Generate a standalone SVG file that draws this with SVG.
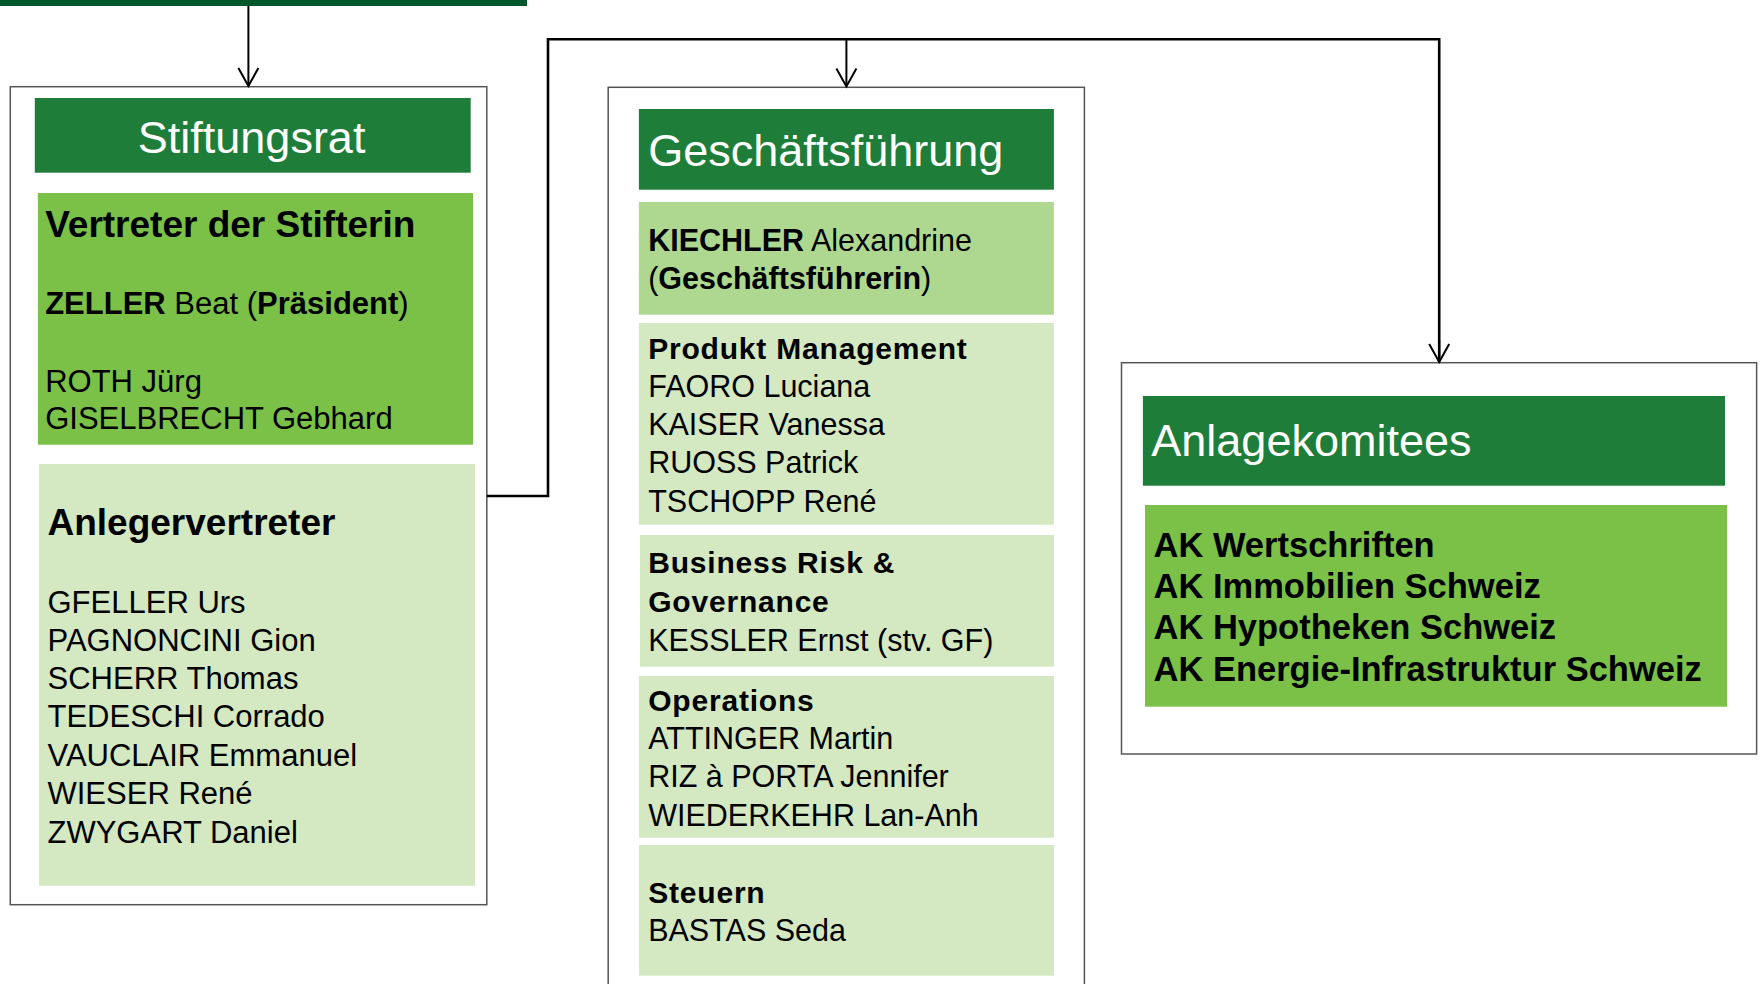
<svg xmlns="http://www.w3.org/2000/svg" width="1760" height="984" viewBox="0 0 1760 984">
<defs>
<style>
text{font-family:"Liberation Sans",Arial,sans-serif;fill:#000}
.hdr{fill:#1f7d3a}
.hdrt{fill:#fff;font-size:45px}
.mid{fill:#7bc147}
.lite{fill:#aed88f}
.pale{fill:#d4e8c1}
.outer{fill:#fff;stroke:#555;stroke-width:1.5}
.b{font-weight:bold}
.n31{font-size:31px}
.n30{font-size:30.5px}
.sub{font-size:30px;font-weight:bold;letter-spacing:0.8px}
.big{font-size:37px;font-weight:bold}
.ak{font-size:34.5px;font-weight:bold}
.conn{fill:none;stroke:#000;stroke-width:2.6}
.stem{fill:none;stroke:#000;stroke-width:2}
</style>
<marker id="arr" viewBox="0 0 24 24" refX="22" refY="12" markerWidth="24" markerHeight="24" markerUnits="userSpaceOnUse" orient="auto">
<path d="M4,2 L22,12 L4,22" fill="none" stroke="#000" stroke-width="2"/>
</marker>
</defs>
<rect x="0" y="0" width="1760" height="984" fill="#fff"/>
<rect id="topbar" x="0" y="0" width="527" height="6" fill="#00572c"/>

<g id="stiftungsrat">
<rect class="outer" x="10.3" y="86.7" width="476.5" height="818"/>
<rect class="hdr" x="34.8" y="98" width="435.9" height="74.7"/>
<text class="hdrt" x="251.6" y="152.7" text-anchor="middle" font-size="46">Stiftungsrat</text>
</g>

<g id="vertreter">
<rect class="mid" x="37.9" y="193" width="435.1" height="251.7"/>
<text class="big" x="45.2" y="237.3">Vertreter der Stifterin</text>
<text class="n31" x="45.2" y="314.3"><tspan class="b">ZELLER</tspan> Beat (<tspan class="b">Präsident</tspan>)</text>
<text class="n31" x="45.2" y="391.7">ROTH Jürg</text>
<text class="n31" x="45.2" y="429.3">GISELBRECHT Gebhard</text>
</g>

<g id="anlegervertreter">
<rect class="pale" x="39" y="464" width="436" height="421.7"/>
<text class="big" x="47.5" y="535">Anlegervertreter</text>
<text class="n31" x="47.5" y="612.7">GFELLER Urs</text>
<text class="n31" x="47.5" y="650.7">PAGNONCINI Gion</text>
<text class="n31" x="47.5" y="689.3">SCHERR Thomas</text>
<text class="n31" x="47.5" y="727.3">TEDESCHI Corrado</text>
<text class="n31" x="47.5" y="766">VAUCLAIR Emmanuel</text>
<text class="n31" x="47.5" y="804.3">WIESER René</text>
<text class="n31" x="47.5" y="842.7">ZWYGART Daniel</text>
</g>

<g id="geschaeftsfuehrung">
<rect class="outer" x="608.2" y="87.3" width="476.2" height="920"/>
<rect class="hdr" x="638.9" y="109" width="415" height="80.7"/>
<text class="hdrt" x="648.2" y="165.7">Geschäftsführung</text>
</g>

<g id="kiechler">
<rect class="lite" x="638.9" y="202" width="415" height="112.7"/>
<text class="n30" x="648.2" y="250.7"><tspan class="b">KIECHLER</tspan> Alexandrine</text>
<text class="n30" x="648.2" y="288.7">(<tspan class="b">Geschäftsführerin</tspan>)</text>
</g>

<g id="produkt">
<rect class="pale" x="638.9" y="323" width="415" height="201.7"/>
<text class="sub" x="648.2" y="359">Produkt Management</text>
<text class="n30" x="648.2" y="397.3">FAORO Luciana</text>
<text class="n30" x="648.2" y="435.3">KAISER Vanessa</text>
<text class="n30" x="648.2" y="473.3">RUOSS Patrick</text>
<text class="n30" x="648.2" y="511.7">TSCHOPP René</text>
</g>

<g id="risk">
<rect class="pale" x="640" y="535" width="414" height="131.7"/>
<text class="sub" x="648.2" y="573.3">Business Risk &amp;</text>
<text class="sub" x="648.2" y="612">Governance</text>
<text class="n30" x="648.2" y="650.7">KESSLER Ernst (stv. GF)</text>
</g>

<g id="operations">
<rect class="pale" x="639" y="676" width="415" height="161.7"/>
<text class="sub" x="648.2" y="710.7">Operations</text>
<text class="n30" x="648.2" y="749.3">ATTINGER Martin</text>
<text class="n30" x="648.2" y="787.3">RIZ à PORTA Jennifer</text>
<text class="n30" x="648.2" y="826">WIEDERKEHR Lan-Anh</text>
</g>

<g id="steuern">
<rect class="pale" x="639" y="845" width="415" height="130.7"/>
<text class="sub" x="648.2" y="903.3">Steuern</text>
<text class="n30" x="648.2" y="940.7">BASTAS Seda</text>
</g>

<g id="anlagekomitees">
<rect class="outer" x="1121.5" y="362.7" width="635.1" height="391.3"/>
<rect class="hdr" x="1142.9" y="396" width="582.1" height="89.7"/>
<text class="hdrt" x="1151.3" y="456">Anlagekomitees</text>
</g>

<g id="ak">
<rect class="mid" x="1145" y="505" width="582.1" height="201.7"/>
<text class="ak" x="1153.5" y="556.7">AK Wertschriften</text>
<text class="ak" x="1153.5" y="597.7">AK Immobilien Schweiz</text>
<text class="ak" x="1153.5" y="639.3">AK Hypotheken Schweiz</text>
<text class="ak" x="1153.5" y="680.7">AK Energie-Infrastruktur Schweiz</text>
</g>

<g id="connectors">
<path class="stem" d="M248.4,6 V86" marker-end="url(#arr)"/>
<path class="conn" d="M486.8,496 H548 V39.3 H1439.2 V361.5" />
<path class="stem" d="M1439.2,340 V362" marker-end="url(#arr)"/>
<path class="stem" d="M846.4,39.3 V86.5" marker-end="url(#arr)"/>
</g>
</svg>
